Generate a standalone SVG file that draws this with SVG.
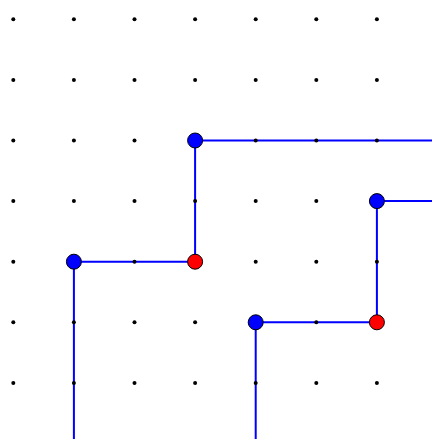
<svg xmlns="http://www.w3.org/2000/svg" width="432" height="439" viewBox="0 0 432 439">
<style>
.dot{fill:#000}
.ln{stroke:#0000ff;stroke-width:2;fill:none}
.b{fill:#0000ff;stroke:#000;stroke-width:1}
.r{fill:#ff0000;stroke:#000;stroke-width:1}
</style>
<rect width="432" height="439" fill="#fff"/>
<g id="connectors">
<polyline class="ln" points="432,140.5 195.1,140.5 195.1,261.7 73.9,261.7 73.9,439"/>
<polyline class="ln" points="432,201.1 376.9,201.1 376.9,322.3 255.7,322.3 255.7,439"/>
</g>
<g id="grid">
<g id="r0"><circle class="dot" cx="13.3" cy="19.3" r="2"/><circle class="dot" cx="73.9" cy="19.3" r="2"/><circle class="dot" cx="134.5" cy="19.3" r="2"/><circle class="dot" cx="195.1" cy="19.3" r="2"/><circle class="dot" cx="255.7" cy="19.3" r="2"/><circle class="dot" cx="316.3" cy="19.3" r="2"/><circle class="dot" cx="376.9" cy="19.3" r="2"/></g>
<g id="r1"><circle class="dot" cx="13.3" cy="79.9" r="2"/><circle class="dot" cx="73.9" cy="79.9" r="2"/><circle class="dot" cx="134.5" cy="79.9" r="2"/><circle class="dot" cx="195.1" cy="79.9" r="2"/><circle class="dot" cx="255.7" cy="79.9" r="2"/><circle class="dot" cx="316.3" cy="79.9" r="2"/><circle class="dot" cx="376.9" cy="79.9" r="2"/></g>
<g id="r2"><circle class="dot" cx="13.3" cy="140.5" r="2"/><circle class="dot" cx="73.9" cy="140.5" r="2"/><circle class="dot" cx="134.5" cy="140.5" r="2"/><circle class="dot" cx="255.7" cy="140.5" r="2"/><circle class="dot" cx="316.3" cy="140.5" r="2"/><circle class="dot" cx="376.9" cy="140.5" r="2"/></g>
<g id="r3"><circle class="dot" cx="13.3" cy="201.1" r="2"/><circle class="dot" cx="73.9" cy="201.1" r="2"/><circle class="dot" cx="134.5" cy="201.1" r="2"/><circle class="dot" cx="195.1" cy="201.1" r="2"/><circle class="dot" cx="255.7" cy="201.1" r="2"/><circle class="dot" cx="316.3" cy="201.1" r="2"/></g>
<g id="r4"><circle class="dot" cx="13.3" cy="261.7" r="2"/><circle class="dot" cx="134.5" cy="261.7" r="2"/><circle class="dot" cx="255.7" cy="261.7" r="2"/><circle class="dot" cx="316.3" cy="261.7" r="2"/><circle class="dot" cx="376.9" cy="261.7" r="2"/></g>
<g id="r5"><circle class="dot" cx="13.3" cy="322.3" r="2"/><circle class="dot" cx="73.9" cy="322.3" r="2"/><circle class="dot" cx="134.5" cy="322.3" r="2"/><circle class="dot" cx="195.1" cy="322.3" r="2"/><circle class="dot" cx="316.3" cy="322.3" r="2"/></g>
<g id="r6"><circle class="dot" cx="13.3" cy="382.9" r="2"/><circle class="dot" cx="73.9" cy="382.9" r="2"/><circle class="dot" cx="134.5" cy="382.9" r="2"/><circle class="dot" cx="195.1" cy="382.9" r="2"/><circle class="dot" cx="255.7" cy="382.9" r="2"/><circle class="dot" cx="316.3" cy="382.9" r="2"/><circle class="dot" cx="376.9" cy="382.9" r="2"/></g>
</g>
<g id="n1"><circle class="b" cx="195.1" cy="140.5" r="7.5"/></g>
<g id="n2"><circle class="b" cx="73.9" cy="261.7" r="7.5"/></g>
<g id="n3"><circle class="r" cx="195.1" cy="261.7" r="7.5"/></g>
<g id="n4"><circle class="b" cx="376.9" cy="201.1" r="7.5"/></g>
<g id="n5"><circle class="b" cx="255.7" cy="322.3" r="7.5"/></g>
<g id="n6"><circle class="r" cx="376.9" cy="322.3" r="7.5"/></g>
</svg>
